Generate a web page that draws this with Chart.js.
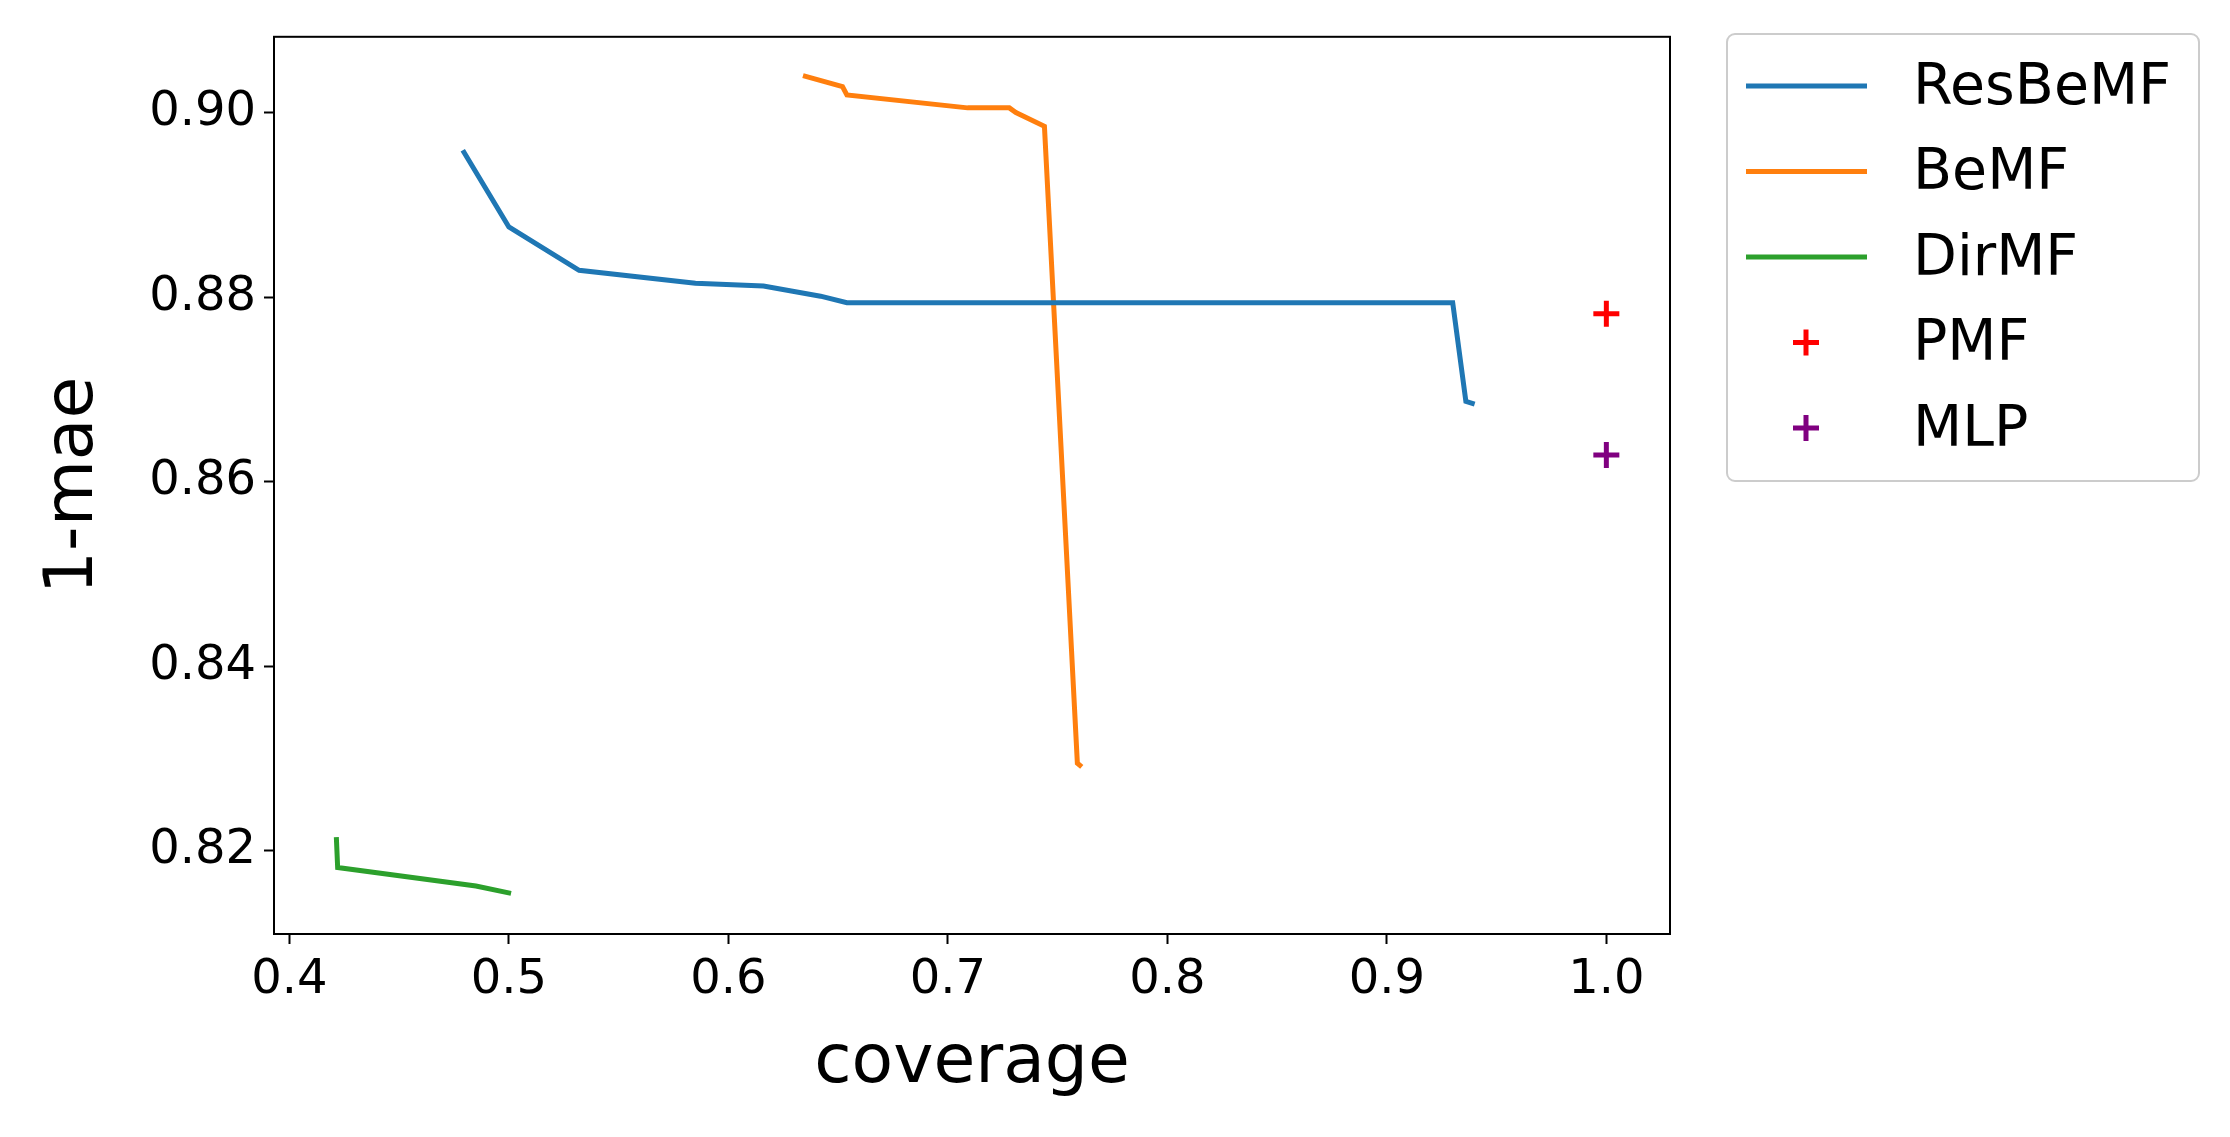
<!DOCTYPE html>
<html>
<head>
<meta charset="utf-8">
<script src="https://cdn.jsdelivr.net/npm/chart.js@4.4.0/dist/chart.umd.min.js"></script>
<style>
  html, body { margin: 0; padding: 0; background: #fff; }
  #wrap { width: 2230px; height: 1137px; }
</style>
</head>
<body>
<div id="wrap"><canvas id="myChart" width="2230" height="1137"></canvas></div>
<script>
const resbemfX = [0.479, 0.500, 0.532, 0.585, 0.616, 0.642, 0.654, 0.930, 0.936, 0.940]
const resbemfY = [0.8959, 0.8876, 0.8829, 0.8815, 0.8812, 0.8801, 0.8794, 0.8794, 0.8687, 0.8684]
const bemfX = [0.634, 0.652, 0.654, 0.709, 0.728, 0.731, 0.744, 0.759, 0.761]
const bemfY = [0.9040, 0.9028, 0.9019, 0.9005, 0.9005, 0.9000, 0.8985, 0.8295, 0.8291]
const dirmfX = [0.4214, 0.4220, 0.485, 0.501]
const dirmfY = [0.8215, 0.8182, 0.8162, 0.8154]
const pmfPoint = [1.0, 0.8782]
const mlpPoint = [1.0, 0.8629]
const xTicks = [0.4, 0.5, 0.6, 0.7, 0.8, 0.9, 1.0]
const yTicks = [0.82, 0.84, 0.86, 0.88, 0.90]

const toPts = (xs, ys) => xs.map((x, i) => ({x: x, y: ys[i]}))
const FONT = 'DejaVu Sans'

const lineSet = (label, xs, ys, color) => ({
  label, data: toPts(xs, ys), borderColor: color, backgroundColor: color,
  borderWidth: 5, pointRadius: 0, showLine: true, tension: 0, kind: 'line'
})
const crossSet = (label, p, color) => ({
  label, data: [{x: p[0], y: p[1]}], borderColor: color, backgroundColor: color,
  pointStyle: 'cross', pointRadius: 13, pointBorderWidth: 5, showLine: false, kind: 'cross'
})

const data = {
  datasets: [
    lineSet('ResBeMF', resbemfX, resbemfY, '#1f77b4'),
    lineSet('BeMF', bemfX, bemfY, '#ff7f0e'),
    lineSet('DirMF', dirmfX, dirmfY, '#2ca02c'),
    crossSet('PMF', pmfPoint, '#ff0000'),
    crossSet('MLP', mlpPoint, '#800080')
  ]
}

// frame round the plot and a matplotlib-style legend box
const framePlugin = {
  id: 'frame',
  afterDraw(chart) {
    const {ctx, chartArea: a} = chart
    ctx.save()
    ctx.strokeStyle = '#000'
    ctx.lineWidth = 2
    ctx.strokeRect(a.left, a.top, a.right - a.left, a.bottom - a.top)

    // legend
    const bx = 1727, by = 34, bw = 472, bh = 447
    ctx.strokeStyle = '#cccccc'
    ctx.lineWidth = 2
    ctx.beginPath()
    ctx.roundRect(bx, by, bw, bh, 8)
    ctx.fillStyle = 'rgba(255,255,255,0.8)'
    ctx.fill()
    ctx.stroke()
    ctx.font = '57px ' + FONT
    ctx.textBaseline = 'middle'
    chart.data.datasets.forEach((ds, i) => {
      const yy = 86 + i * 85.5
      ctx.strokeStyle = ds.borderColor
      ctx.lineWidth = 5
      ctx.beginPath()
      if (ds.kind === 'line') {
        ctx.moveTo(1746, yy); ctx.lineTo(1867, yy)
      } else {
        ctx.moveTo(1793, yy); ctx.lineTo(1819, yy)
        ctx.moveTo(1806, yy - 13); ctx.lineTo(1806, yy + 13)
      }
      ctx.stroke()
      ctx.fillStyle = '#000'
      ctx.fillText(ds.label, 1913, yy + 3)
    })
    ctx.restore()
  }
}

const config = {
  type: 'scatter',
  data,
  options: {
    responsive: false,
    animation: false,
    devicePixelRatio: 1,
    layout: { padding: { left: 30, right: 560, top: 28, bottom: 28 } },
    scales: {
      x: {
        type: 'linear', min: 0.393, max: 1.029,
        afterBuildTicks: s => { s.ticks = xTicks.map(v => ({value: v})) },
        afterFit: s => { s.height = 1137 - 934 - 28 },
        grid: { drawOnChartArea: false, drawTicks: true, tickLength: 10, tickWidth: 2, color: '#000' },
        border: { display: false },
        ticks: { color: '#000', font: { family: FONT, size: 48 }, padding: 8,
          callback: v => v.toFixed(1), maxRotation: 0 },
        title: { display: true, text: 'coverage', color: '#000', font: { family: FONT, size: 68 }, padding: { top: 4 } }
      },
      y: {
        type: 'linear', min: 0.811, max: 0.9082,
        afterBuildTicks: s => { s.ticks = yTicks.map(v => ({value: v})) },
        afterFit: s => { s.width = 244 },
        grid: { drawOnChartArea: false, drawTicks: true, tickLength: 10, tickWidth: 2, color: '#000' },
        border: { display: false },
        ticks: { color: '#000', font: { family: FONT, size: 48 }, padding: 8,
          callback: v => v.toFixed(2) },
        title: { display: true, text: '1-mae', color: '#000', font: { family: FONT, size: 68 }, padding: { bottom: 10 } }
      }
    },
    plugins: {
      legend: { display: false },
      tooltip: { enabled: false }
    }
  },
  plugins: [framePlugin]
}

const myChart = new Chart(document.getElementById('myChart'), config)
</script>
</body>
</html>
